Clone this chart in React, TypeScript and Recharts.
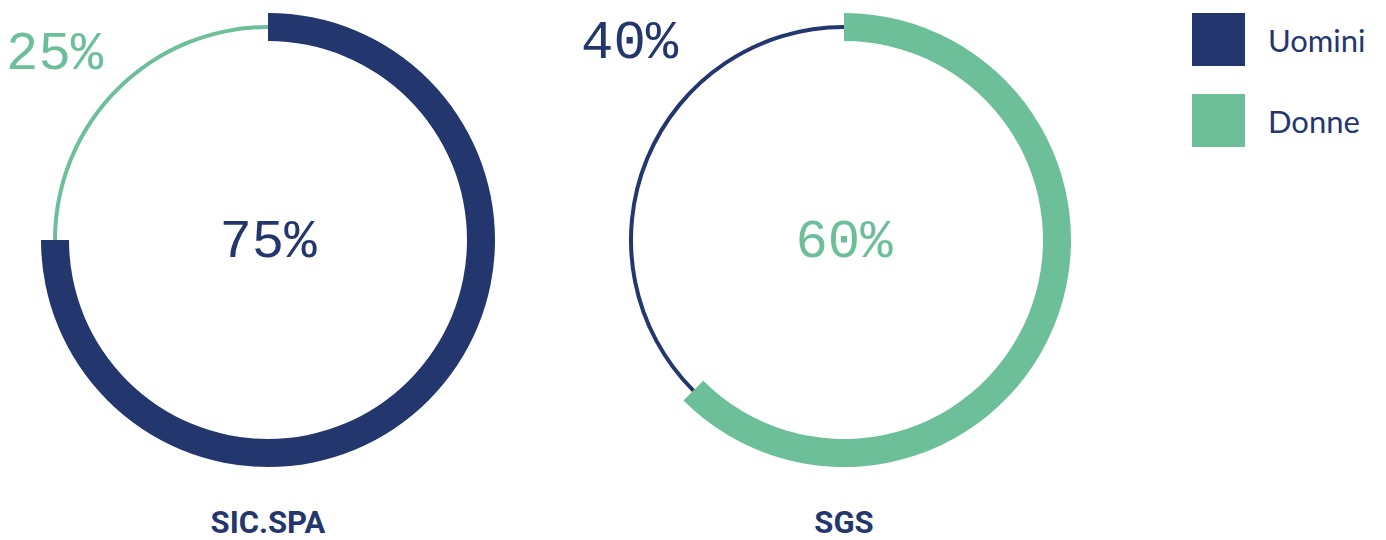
import { Cell, Label, Legend, Pie, PieChart } from 'recharts';

const NAVY = '#24366e';
const GREEN = '#6cbf99';

const seriesNames = ['Uomini', 'Donne'];
const seriesColors = [NAVY, GREEN];

// share of the ring drawn for each company
const sicValues = [75, 25];
const sgsValues = [37.5, 62.5];

const companies = ['SIC.SPA', 'SGS'];
const sicLabels = ['75%', '25%'];
const sgsLabels = ['40%', '60%'];

const sicData = seriesNames.map((name, i) => ({ name, value: sicValues[i] }));
// SGS ring starts with the Donne arc at the top
const sgsData = [
	{ name: seriesNames[1], value: sgsValues[1] },
	{ name: seriesNames[0], value: sgsValues[0] },
];

const pctFont = '"Liberation Mono", monospace';

const LegendBox = () => (
	<div style={{ fontFamily: 'Lato, sans-serif' }}>
		{seriesNames.map((name, i) => (
			<div key={name} style={{ display: 'flex', alignItems: 'center', height: 53, marginBottom: 28 }}>
				<div style={{ width: 53, height: 53, background: seriesColors[i] }} />
				<span style={{ marginLeft: 23, fontSize: 31, color: NAVY }}>{name}</span>
			</div>
		))}
	</div>
);

function centerText(text: string, color: string) {
	return ({ viewBox }: any) => (
		<text
			x={viewBox.cx}
			y={viewBox.cy + 17}
			textAnchor='middle'
			fill={color}
			fontSize={54}
			fontFamily={pctFont}
		>
			{text}
		</text>
	);
}

function cornerText(text: string, color: string, dx: number, dy: number) {
	return ({ viewBox }: any) => (
		<text x={viewBox.cx + dx} y={viewBox.cy + dy} fill={color} fontSize={54} fontFamily={pctFont}>
			{text}
		</text>
	);
}

function nameText(text: string) {
	return ({ viewBox }: any) => (
		<text
			x={viewBox.cx}
			y={viewBox.cy + 293}
			textAnchor='middle'
			fill={NAVY}
			fontSize={31}
			fontWeight={700}
			fontFamily='Roboto, sans-serif'
		>
			{text}
		</text>
	);
}

export default function App() {
	return (
		<div style={{ position: 'absolute', left: 0, top: 0, background: '#fff' }}>
			<PieChart width={1386} height={540} margin={{ top: 0, right: 0, bottom: 0, left: 0 }}>
				{/* SIC.SPA */}
				<Pie
					data={sicData}
					dataKey='value'
					cx={268}
					cy={240}
					innerRadius={199}
					outerRadius={227}
					startAngle={90}
					endAngle={-270}
					stroke='none'
					isAnimationActive={false}
				>
					<Cell fill={NAVY} />
					<Cell fill='transparent' />
					<Label content={centerText(sicLabels[0], NAVY)} />
					<Label content={nameText(companies[0])} />
				</Pie>
				<Pie
					data={sicData}
					dataKey='value'
					cx={268}
					cy={240}
					innerRadius={211}
					outerRadius={215}
					startAngle={90}
					endAngle={-270}
					stroke='none'
					isAnimationActive={false}
				>
					<Cell fill='transparent' />
					<Cell fill={GREEN} />
					<Label content={cornerText(sicLabels[1], GREEN, -262, -171)} />
				</Pie>

				{/* SGS */}
				<Pie
					data={sgsData}
					dataKey='value'
					cx={844}
					cy={240}
					innerRadius={199}
					outerRadius={227}
					startAngle={90}
					endAngle={-270}
					stroke='none'
					isAnimationActive={false}
				>
					<Cell fill={GREEN} />
					<Cell fill='transparent' />
					<Label content={centerText(sgsLabels[1], GREEN)} />
					<Label content={nameText(companies[1])} />
				</Pie>
				<Pie
					data={sgsData}
					dataKey='value'
					cx={844}
					cy={240}
					innerRadius={211}
					outerRadius={215}
					startAngle={90}
					endAngle={-270}
					stroke='none'
					isAnimationActive={false}
				>
					<Cell fill='transparent' />
					<Cell fill={NAVY} />
					<Label content={cornerText(sgsLabels[0], NAVY, -263, -182)} />
				</Pie>

				<Legend
					layout='vertical'
					verticalAlign='top'
					align='right'
					content={LegendBox}
					wrapperStyle={{ top: 13, left: 1192, right: 'auto', width: 194 }}
				/>
			</PieChart>
		</div>
	);
}
